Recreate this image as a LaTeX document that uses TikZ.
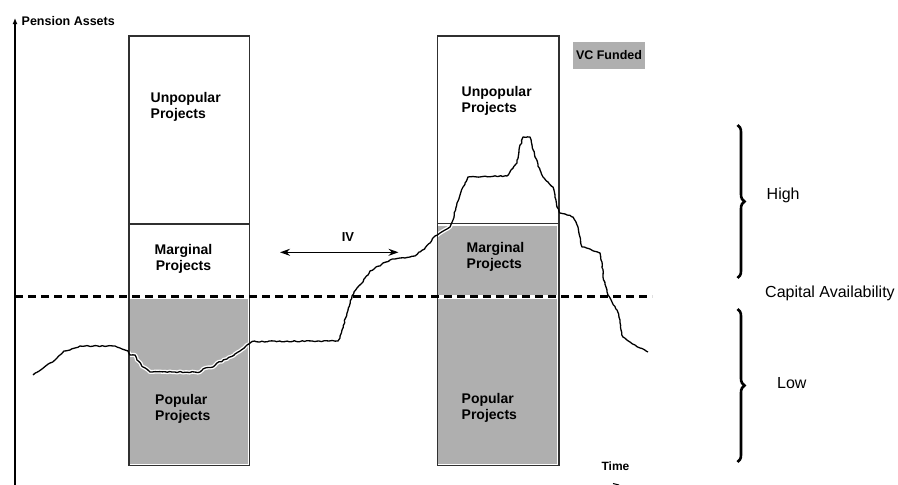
\documentclass[tikz,border=0pt]{standalone}
\usepackage{fontspec}
\setmainfont{Liberation Sans}
\usetikzlibrary{arrows.meta,decorations.pathreplacing,decorations.pathmorphing}
\definecolor{fundgray}{HTML}{AFAFAF}
\definecolor{boxline}{HTML}{303030}
\tikzset{
  boxlbl/.style={font=\bfseries\fontsize{14}{16}\selectfont, inner sep=0pt, align=left, anchor=west},
  boxlblc/.style={font=\bfseries\fontsize{14}{16}\selectfont, inner sep=0pt, align=center},
  smalllbl/.style={font=\bfseries\fontsize{12.5}{14}\selectfont, inner sep=0pt},
  sidelbl/.style={font=\fontsize{16}{18}\selectfont, inner sep=0pt, anchor=west},
  projbox/.style={draw=boxline, line width=1.3pt},
  jag/.style={decorate, decoration={random steps, segment length=2.5pt, amplitude=0.6pt}},
  curveline/.style={line width=1.3pt, black, line join=round, jag},
  halo/.style={line width=4pt, white, line join=round, jag},
  bracestyle/.style={decorate, decoration={brace, amplitude=7pt}, line width=2.6pt},
}
\begin{document}
\begin{tikzpicture}[x=1pt,y=-1pt]
\useasboundingbox (0,0) rectangle (898,485);
\fill[white] (0,0) rectangle (898,485);
% gray fills
\fill[fundgray] (129.5,298.5) rectangle (247.5,463.5);
\fill[fundgray] (438,225.5) rectangle (556.5,295.3);
\fill[fundgray] (438,298.5) rectangle (556.5,463.5);
% curve halo clipped to gray regions
\def\pensioncurve{(33,375) -- (42,369) -- (50,363) -- (55,360) -- (60,355) -- (64,351) -- (70,350) -- (75,348) -- (80,346) -- (115,346) -- (120,348) -- (125,350) -- (128,351) -- (130,355) -- (135,355) -- (137,360) -- (143,367) -- (150,372) -- (200,372) -- (203,369) -- (213,367) -- (217,363) -- (227,359) -- (240,351) -- (247,345) -- (252,341.5) -- (338,341) -- (340,338) -- (342,330) -- (347,313) -- (352,296) -- (357,288) -- (363,282) -- (365,278) -- (368,275) -- (370,271) -- (374,269) -- (376,267) -- (380,266) -- (383,263) -- (386,262) -- (390,260) -- (395,259) -- (400,258) -- (405,258) -- (410,257) -- (415,256) -- (420,252) -- (425,248) -- (430,243) -- (435,236) -- (440,233) -- (445,230) -- (450,227) -- (453,220) -- (457,203) -- (460,195) -- (463,187) -- (468,177) -- (507,176) -- (511,170) -- (517,163) -- (519,150) -- (523,137) -- (530,137) -- (532,145) -- (535,157) -- (540,170) -- (543,177) -- (548,182) -- (553,187) -- (555,195) -- (557,207) -- (560,213) -- (567,215) -- (573,217) -- (576,222) -- (578,227) -- (580,237) -- (582,247) -- (590,249) -- (600,253) -- (602,262) -- (603,277) -- (606,287) -- (608,295) -- (612,302) -- (617,310) -- (620,320) -- (621,330) -- (623,337) -- (630,342) -- (635,345) -- (640,348) -- (648,352)}
\begin{scope}
  \clip (129.5,298.5) rectangle (247.5,463.5) (438,225.5) rectangle (556.5,463.5);
  \pgfmathsetseed{4242}
  \draw[halo] \pensioncurve;
\end{scope}
% boxes
\draw[projbox] (129,36) rectangle (249.5,465.5);
\draw[projbox] (129,224) -- (249.5,224);
\draw[projbox] (437.5,36) rectangle (559,465.5);
\draw[projbox] (437.5,223.5) -- (559,223.5);
% VC funded legend
\fill[fundgray] (573,42) rectangle (645,69);
\node[smalllbl] (vc) at (609,55.5) {VC Funded};
% axis
\coordinate (axbot) at (15,485);
\coordinate (axtop) at (15,18);
\draw[line width=1.4pt, -{Latex[length=6pt,width=5pt]}] (axbot) -- (axtop);
\node[smalllbl, anchor=west] (pa) at (21.5,21) {Pension Assets};
% dashed capital line
\coordinate (dl) at (15,296.5);
\coordinate (dr) at (652,296.5);
\draw[line width=2.6pt, dash pattern=on 8pt off 5pt] (dl) -- (dr);
% curve
\pgfmathsetseed{4242}
\draw[curveline] \pensioncurve;
% IV arrow
\coordinate (ivl) at (280,252.3);
\coordinate (ivr) at (398.5,252.3);
\draw[line width=1.4pt, {Stealth[length=10pt,width=7pt]}-{Stealth[length=10pt,width=7pt]}] (ivl) -- (ivr);
\node[font=\bfseries\fontsize{13}{15}\selectfont, inner sep=0pt] (iv) at (348,237.5) {IV};
% box labels
\node[boxlbl] (u1) at (150.5,106.5) {Unpopular\\Projects};
\node[boxlblc] (m1) at (183.5,259) {Marginal\\Projects};
\node[boxlbl] (p1) at (155,408.5) {Popular\\Projects};
\node[boxlbl] (u2) at (461.5,100.5) {Unpopular\\Projects};
\node[boxlbl] (m2) at (466.5,256.5) {Marginal\\Projects};
\node[boxlbl] (p2) at (461.5,408) {Popular\\Projects};
% time
\node[smalllbl, font=\bfseries\fontsize{12}{14}\selectfont] (time) at (615.5,466.5) {Time};
\coordinate (tm1) at (613,483.5);
\coordinate (tm2) at (619,485);
\draw[line width=1pt] (tm1) -- (tm2);
% braces
\coordinate (b1t) at (737.5,125);
\coordinate (b1b) at (737.5,278);
\coordinate (b2t) at (737.5,309);
\coordinate (b2b) at (737.5,462);
\draw[bracestyle] (b1t) -- (b1b);
\draw[bracestyle] (b2t) -- (b2b);
\node[sidelbl] (high) at (766.5,195) {High};
\node[sidelbl] (cap) at (765,293) {Capital Availability};
\node[sidelbl] (low) at (777,383) {Low};
\end{tikzpicture}
\end{document}
